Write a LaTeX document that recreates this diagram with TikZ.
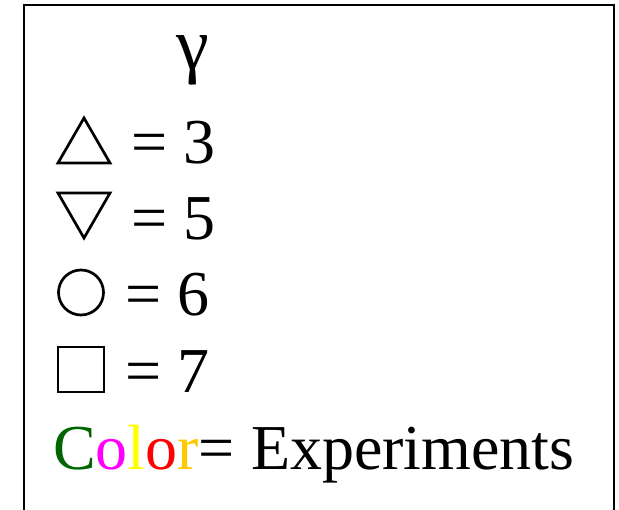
\documentclass[tikz,border=0pt]{standalone}
\usepackage{fontspec}
\setmainfont{Liberation Serif}
\definecolor{cgreen}{RGB}{0,100,0}
\definecolor{cmag}{RGB}{255,0,255}
\definecolor{cyel}{RGB}{255,255,0}
\definecolor{cred}{RGB}{255,0,0}
\definecolor{cgold}{RGB}{255,200,0}
\tikzset{
  lbl/.style={anchor=base west, inner sep=0pt, font=\fontsize{64}{64}\selectfont},
  markshape/.style={line width=2.7pt, line join=miter},
}
\begin{document}
\begin{tikzpicture}[x=1pt,y=-1pt]
\useasboundingbox (0,0) rectangle (619,510);
\draw[line width=2pt] (24,520) -- (24,5) -- (614,5) -- (614,520);
\node[anchor=base, inner sep=0pt, font=\fontsize{74}{74}\selectfont] (g) at (193,70) {γ};
% markers
\draw[markshape] (58,163) -- (110,163) -- (84,118) -- cycle;
\draw[markshape] (58,193) -- (110,193) -- (84,238) -- cycle;
\draw[markshape] (81,292.5) circle[radius=22.5];
\draw[markshape] (58,347) rectangle (104,392);
% labels
\node[lbl] (l1) at (131,164) {= 3};
\node[lbl] (l2) at (131,240) {= 5};
\node[lbl] (l3) at (125,316) {= 6};
\node[lbl] (l4) at (125,393) {= 7};
\node[lbl] (l5) at (53,470) {\textcolor{cgreen}{C}\textcolor{cmag}{o}\textcolor{cyel}{l}\textcolor{cred}{o}\textcolor{cgold}{r}= Experiments};
\end{tikzpicture}
\end{document}
